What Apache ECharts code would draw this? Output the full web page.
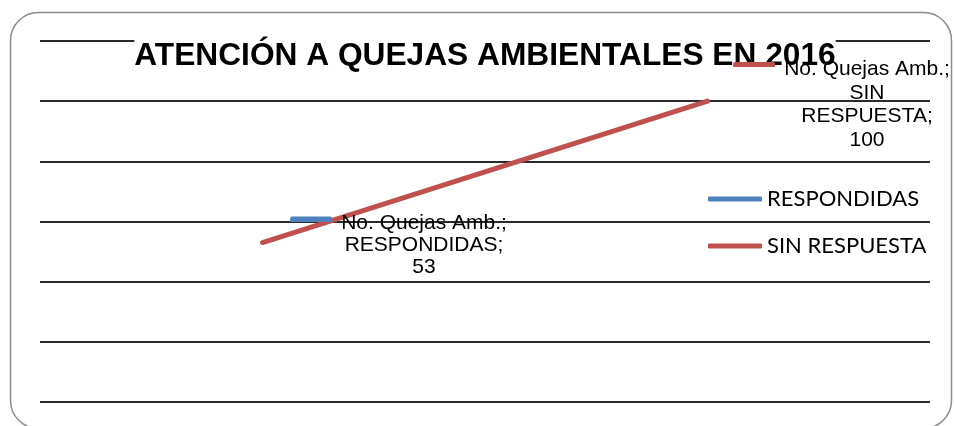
<!DOCTYPE html>
<html>
<head>
<meta charset="utf-8">
<script src="https://cdn.jsdelivr.net/npm/echarts@6/dist/echarts.min.js"></script>
<style>
  html, body { margin: 0; padding: 0; background: #fff; }
  #chart { width: 954px; height: 426px; }
</style>
</head>
<body>
<div id="chart"></div>
<script>
// datos del grafico
const categories = ['RESPONDIDAS', 'SIN RESPUESTA'];
const values = [53, 100];
const measureName = 'No. Quejas Amb.';
const legendNames = ['RESPONDIDAS', 'SIN RESPUESTA'];
const legendColors = ['#4F81BD', '#C0504D'];

const chart = echarts.init(document.getElementById('chart'));

// clave de leyenda un poco por encima del centro de la linea de texto
function keyFill (color) {
  return new echarts.graphic.LinearGradient(0, 0, 0, 1, [
    { offset: 0, color: color },
    { offset: 0.36, color: color },
    { offset: 0.36, color: 'rgba(255,255,255,0)' },
    { offset: 1, color: 'rgba(255,255,255,0)' }
  ]);
}

// etiqueta con clave de leyenda (como en Excel)
function pointLabel (i, pos, lineHeight) {
  return {
    show: true,
    position: pos,
    align: 'center',
    verticalAlign: 'top',
    formatter: function (p) {
      const words = p.name.split(' ');
      words[words.length - 1] += ';';
      const lines = ['{k|}{g|}{t|' + measureName + ';}{g|}{s|}'];
      words.forEach(w => lines.push('{t|' + w + '}'));
      lines.push('{t|' + p.value + '}');
      return lines.join('\n');
    },
    rich: {
      k: { width: 42, height: 14, backgroundColor: keyFill(legendColors[i]), borderRadius: 2 },
      g: { width: 9 },
      s: { width: 42 },
      t: {
        fontFamily: 'Liberation Sans, Arial, sans-serif',
        fontSize: 21,
        lineHeight: lineHeight,
        color: '#000'
      }
    }
  };
}

const seriesData = values.map((v, i) => ({
  value: v,
  label: i === 0 ? pointLabel(0, [162.5, -29], 22) : pointLabel(1, [160.5, -43], 23.7)
}));

const option = {
  animation: false,
  graphic: [{
    type: 'rect',
    z: -10,
    shape: { x: 10.5, y: 12.5, width: 941, height: 416, r: 28 },
    style: { fill: '#fff', stroke: '#8c8c8c', lineWidth: 1.5 }
  }],
  title: {
    text: 'ATENCIÓN A QUEJAS AMBIENTALES EN 2016',
    left: 485,
    top: 40,
    textAlign: 'center',
    z: 1,
    padding: 0,
    backgroundColor: '#fff',
    textStyle: {
      fontFamily: 'Liberation Sans, Arial, sans-serif',
      fontSize: 31.7,
      fontWeight: 'bold',
      color: '#000'
    }
  },
  legend: {
    orient: 'vertical',
    left: 708,
    top: 188,
    padding: 0,
    itemWidth: 54,
    itemHeight: 5,
    itemGap: 25,
    selectedMode: false,
    icon: 'roundRect',
    textStyle: {
      fontFamily: 'Lato, sans-serif',
      fontSize: 22,
      lineHeight: 22,
      color: '#000'
    },
    data: legendNames.map((n, i) => ({ name: n, itemStyle: { color: legendColors[i], opacity: 1 } }))
  },
  grid: { left: 40, right: 24, top: 41, bottom: 24 },
  xAxis: {
    type: 'category',
    data: categories,
    boundaryGap: true,
    axisLine: { show: false },
    axisTick: { show: false },
    axisLabel: { show: false },
    splitLine: { show: false }
  },
  yAxis: {
    type: 'value',
    min: 0,
    max: 120,
    interval: 20,
    axisLine: { show: false },
    axisTick: { show: false },
    axisLabel: { show: false },
    splitLine: { show: true, lineStyle: { color: '#2a2a2a', width: 2 } }
  },
  series: [
    {
      name: 'RESPONDIDAS',
      type: 'line',
      data: [],
      itemStyle: { color: legendColors[0] },
      lineStyle: { color: legendColors[0], width: 5 }
    },
    {
      name: 'SIN RESPUESTA',
      type: 'line',
      data: seriesData,
      symbol: 'circle',
      symbolSize: 2,
      showSymbol: true,
      itemStyle: { color: 'rgba(0,0,0,0)', borderWidth: 0 },
      lineStyle: { color: legendColors[1], width: 5, cap: 'round' }
    }
  ]
};

chart.setOption(option);
</script>
</body>
</html>
